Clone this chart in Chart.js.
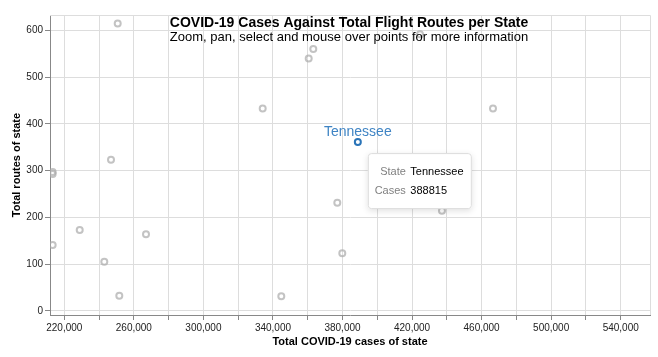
<!DOCTYPE html>
<html>
<head>
<meta charset="utf-8">
<script src="https://cdn.jsdelivr.net/npm/chart.js@4.4.0/dist/chart.umd.min.js"></script>
<style>
  html, body { margin: 0; padding: 0; background: #fff; }
  #wrap { width: 658px; height: 357px; position: relative; }
</style>
</head>
<body>
<div id="wrap"><canvas id="c" width="658" height="357"></canvas></div>
<script>
// ---- data ----
const cases  = [250710, 246860, 213300, 213300, 213300, 228860, 243010, 251630, 266990, 334100, 344800, 360560, 363200, 377010, 379880, 424570, 437200, 466550];
const routes = [615, 323, 297, 293, 141, 173, 105, 32, 164, 433, 31, 540, 560, 231, 123, 592, 214, 433];
const highlightState = ['Tennessee'];
const highlightCases = [388815];
const highlightRoutes = [361];
const yTicks = [0, 100, 200, 300, 400, 500, 600];
const xTicks = [220000, 240000, 260000, 280000, 300000, 320000, 340000, 360000, 380000, 400000, 420000, 440000, 460000, 480000, 500000, 520000, 540000];
const xLabelTicks = [220000, 260000, 300000, 340000, 380000, 420000, 460000, 500000, 540000];

const titleText = 'COVID-19 Cases Against Total Flight Routes per State';
const subtitleText = 'Zoom, pan, select and mouse over points for more information';
const FONT = '"Liberation Sans", Arial, Helvetica, sans-serif';

const grayPts = cases.map((c, i) => ({ x: c, y: routes[i] }));
const hiPts = highlightCases.map((c, i) => ({ x: c, y: highlightRoutes[i], name: highlightState[i] }));

const overlay = {
  id: 'overlay',
  afterDatasetsDraw(chart) {
    const { ctx, chartArea: a, scales: { x, y } } = chart;
    ctx.save();
    // view border (top / right)
    ctx.strokeStyle = '#dddddd';
    ctx.lineWidth = 1;
    ctx.beginPath();
    ctx.moveTo(a.left, a.top + 0.5); ctx.lineTo(a.right + 0.5, a.top + 0.5); ctx.lineTo(a.right + 0.5, a.bottom);
    ctx.stroke();

    // highlight label
    hiPts.forEach(p => {
      const px = x.getPixelForValue(p.x), py = y.getPixelForValue(p.y);
      ctx.font = '14px ' + FONT;
      ctx.fillStyle = '#3f84c4';
      ctx.textAlign = 'center';
      ctx.textBaseline = 'alphabetic';
      ctx.fillText(p.name, px, py - 6);
    });

    // titles
    const cx = (a.left + a.right) / 2;
    ctx.fillStyle = '#000';
    ctx.textAlign = 'center';
    ctx.textBaseline = 'alphabetic';
    ctx.font = 'bold 14px ' + FONT;
    ctx.fillText(titleText, cx - 1, 27);
    ctx.font = '13px ' + FONT;
    ctx.fillText(subtitleText, cx - 1, 41);

    // tooltip
    hiPts.forEach(p => {
      const px = x.getPixelForValue(p.x), py = y.getPixelForValue(p.y);
      const bx = px + 10, by = py + 11, bw = 104, bh = 56, r = 3;
      ctx.save();
      ctx.shadowColor = 'rgba(0,0,0,0.12)';
      ctx.shadowBlur = 6;
      ctx.shadowOffsetY = 2;
      ctx.fillStyle = '#fff';
      ctx.beginPath();
      ctx.roundRect(bx, by, bw, bh, r);
      ctx.fill();
      ctx.restore();
      ctx.strokeStyle = '#dcdcdc';
      ctx.lineWidth = 1;
      ctx.beginPath();
      ctx.roundRect(bx + 0.5, by + 0.5, bw - 1, bh - 1, r);
      ctx.stroke();
      ctx.font = '11px ' + FONT;
      ctx.textBaseline = 'middle';
      const keyX = bx + 38, valX = bx + 42.5;
      ctx.fillStyle = '#808080'; ctx.textAlign = 'right';
      ctx.fillText('State', keyX, by + 18.5);
      ctx.fillText('Cases', keyX, by + 38);
      ctx.fillStyle = '#000'; ctx.textAlign = 'left';
      ctx.fillText(p.name, valX, by + 18.5);
      ctx.fillText(String(p.x), valX, by + 38);
    });
    ctx.restore();
  }
};

new Chart(document.getElementById('c'), {
  type: 'scatter',
  data: {
    datasets: [
      {
        data: grayPts,
        pointStyle: 'circle',
        pointRadius: 3,
        borderWidth: 2,
        borderColor: 'rgba(170,170,170,0.7)',
        backgroundColor: 'rgba(255,255,255,0)'
      },
      {
        data: hiPts,
        pointStyle: 'circle',
        pointRadius: 3,
        borderWidth: 2,
        borderColor: '#2a74b8',
        backgroundColor: 'rgba(255,255,255,0)'
      }
    ]
  },
  options: {
    responsive: false,
    animation: false,
    events: [],
    layout: { padding: { top: 15, right: 8, left: 0, bottom: 0 } },
    plugins: { legend: { display: false }, tooltip: { enabled: false }, title: { display: false } },
    scales: {
      x: {
        type: 'linear',
        min: 211776,
        max: 556851,
        afterFit(s) { s.height = 42; },
        afterBuildTicks(s) { s.ticks = xTicks.map(v => ({ value: v })); },
        border: { display: true, color: '#888888', width: 1 },
        grid: { color: '#dddddd', tickColor: '#888888', tickLength: 5, drawTicks: true },
        ticks: {
          autoSkip: false,
          maxRotation: 0,
          minRotation: 0,
          padding: 2,
          color: '#222',
          font: { family: FONT, size: 10 },
          callback: (v) => xLabelTicks.includes(v) ? v.toLocaleString('en-US') : ''
        },
        title: {
          display: true,
          text: 'Total COVID-19 cases of state',
          color: '#000',
          font: { family: FONT, size: 11, weight: 'bold' },
          padding: { top: 0, bottom: 8.5 }
        }
      },
      y: {
        type: 'linear',
        min: -9,
        max: 633,
        afterFit(s) { s.width = 50; },
        afterBuildTicks(s) { s.ticks = yTicks.map(v => ({ value: v })); },
        border: { display: true, color: '#888888', width: 1 },
        grid: { color: '#dddddd', tickColor: '#888888', tickLength: 5 },
        ticks: {
          padding: 2,
          color: '#222',
          font: { family: FONT, size: 10 }
        },
        title: {
          display: true,
          text: 'Total routes of state',
          color: '#000',
          font: { family: FONT, size: 11, weight: 'bold' },
          padding: { top: 10, bottom: 0 }
        }
      }
    }
  },
  plugins: [overlay]
});
</script>
</body>
</html>
